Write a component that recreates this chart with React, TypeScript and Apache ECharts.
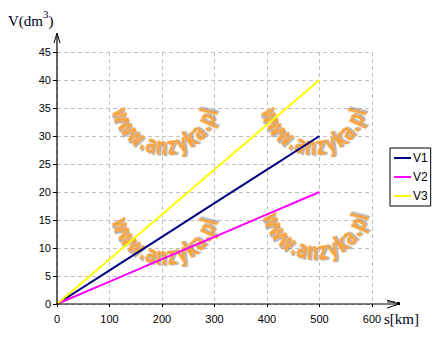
import React, { useEffect, useRef } from "react";
import * as echarts from "echarts";

const distances = [0, 100, 200, 300, 400, 500];
const V1 = [0, 6, 12, 18, 24, 30];
const V2 = [0, 4, 8, 12, 16, 20];
const V3 = [0, 8, 16, 24, 32, 40];
const seriesNames = ["V1", "V2", "V3"];
const seriesColors = ["#000080", "#ff00ff", "#ffff00"];
const watermarkText = "www.anzyka.pl";

function arcText(cx: number, cy: number, r: number, a0: number, a1: number, text: string) {
  const weights = text.split("").map((c) => (c === "w" ? 1.3 : c === "." ? 0.55 : c === "l" ? 0.6 : 1));
  const total = weights.reduce((a, b) => a + b, 0);
  let acc = 0;
  const els: any[] = [];
  text.split("").forEach((ch, i) => {
    const mid = acc + weights[i] / 2;
    acc += weights[i];
    const t = mid / total;
    const th = a0 + (a1 - a0) * t;
    const rad = (th * Math.PI) / 180;
    els.push({
      type: "text",
      x: cx + r * Math.cos(rad),
      y: cy + r * Math.sin(rad),
      rotation: ((90 - th) * Math.PI) / 180,
      scaleX: 1.05,
      scaleY: 1.45,
      z: 1,
      silent: true,
      style: {
        text: ch,
        fill: "#f9a43c",
        fontSize: 17,
        fontWeight: "bold",
        fontFamily: '"DejaVu Sans Condensed", "Liberation Sans Narrow", sans-serif',
        align: "center",
        verticalAlign: "middle",
        textShadowColor: "rgba(120,120,120,0.55)",
        textShadowOffsetX: 2,
        textShadowOffsetY: 1,
        textShadowBlur: 1,
      },
    });
  });
  return els;
}

export default function App() {
  const ref = useRef<HTMLDivElement>(null);
  useEffect(() => {
    if (!ref.current) return;
    const chart = echarts.init(ref.current, null, { renderer: "svg" });
    const mk = (vals: number[]) => distances.map((d, i) => [d, vals[i]]);
    const data = [V1, V2, V3];
    chart.setOption({
      animation: false,
      backgroundColor: "#fff",
      grid: { left: 57, top: 52, width: 315, height: 252 },
      xAxis: {
        type: "value",
        min: 0,
        max: 600,
        interval: 100,
        axisLine: { show: false },
        axisTick: { show: true, length: 3, lineStyle: { color: "#000" } },
        axisLabel: { color: "#000", fontSize: 11, fontFamily: "Liberation Sans", margin: 9 },
        splitLine: { show: true, lineStyle: { color: "#c0c0c0", type: [4, 3] } },
      },
      yAxis: {
        type: "value",
        min: 0,
        max: 45,
        interval: 5,
        axisLine: { show: false },
        axisTick: { show: true, length: 4, lineStyle: { color: "#000" } },
        axisLabel: { color: "#000", fontSize: 11, fontFamily: "Liberation Sans", margin: 6 },
        splitLine: { show: true, lineStyle: { color: "#c0c0c0", type: [4, 3] } },
      },
      legend: {
        orient: "vertical",
        left: 390,
        top: 148,
        borderColor: "#000",
        borderWidth: 1,
        borderRadius: 0,
        padding: [4, 3, 4, 4],
        itemGap: 7,
        itemWidth: 17,
        itemHeight: 2,
        icon: "rect",
        textStyle: { color: "#000", fontSize: 12, fontFamily: "Liberation Sans", padding: [0, 0, 0, -3] },
        data: seriesNames,
      },
      series: seriesNames.map((n, i) => ({
        name: n,
        type: "line",
        data: mk(data[i]),
        showSymbol: false,
        symbol: "none",
        z: 3,
        lineStyle: { color: seriesColors[i], width: 2 },
        itemStyle: { color: seriesColors[i] },
      })),
    });
    const o = chart.convertToPixel({ gridIndex: 0 }, [0, 0]) as number[];
    const top = chart.convertToPixel({ gridIndex: 0 }, [0, 45]) as number[];
    const right = chart.convertToPixel({ gridIndex: 0 }, [600, 0]) as number[];
    const xEnd = right[0] + 27;
    const yEnd = top[1] - 19;
    const graphics: any[] = [
      ...arcText(165, 101, 45, 170, 10, watermarkText),
      ...arcText(314, 101, 45, 170, 10, watermarkText),
      ...arcText(165, 211, 45, 170, 10, watermarkText),
      ...arcText(316, 206, 45, 170, 10, watermarkText),
      { type: "line", z: 5, shape: { x1: o[0], y1: o[1], x2: xEnd, y2: o[1] }, style: { stroke: "#000", lineWidth: 1.2 } },
      { type: "polyline", z: 5, shape: { points: [[xEnd - 12, o[1] - 4], [xEnd, o[1]], [xEnd - 12, o[1] + 4]] }, style: { stroke: "#000", fill: "none", lineWidth: 1 } },
      { type: "line", z: 5, shape: { x1: xEnd - 12, y1: o[1] - 2, x2: xEnd - 4, y2: o[1] - 2 }, style: { stroke: "#000", lineWidth: 1 } },
      { type: "rect", z: 5, shape: { x: xEnd - 2, y: o[1] - 2, width: 3, height: 3 }, style: { fill: "#000" } },
      { type: "line", z: 5, shape: { x1: o[0], y1: o[1], x2: o[0], y2: yEnd }, style: { stroke: "#000", lineWidth: 1.2 } },
      { type: "polyline", z: 5, shape: { points: [[o[0] - 3, yEnd + 10], [o[0], yEnd], [o[0] + 3, yEnd + 10]] }, style: { stroke: "#000", fill: "none", lineWidth: 1 } },
      {
        type: "text",
        z: 5,
        x: 8,
        y: 8,
        style: {
          text: "{a|V(dm}{s|3}{a|)}",
          rich: {
            a: { fontFamily: "Liberation Serif", fontSize: 15, fill: "#000020", verticalAlign: "bottom", lineHeight: 20 },
            s: { fontFamily: "Liberation Serif", fontSize: 11, fill: "#000020", verticalAlign: "top", lineHeight: 12, padding: [0, 0, 8, 0] },
          },
        },
      },
      {
        type: "text",
        z: 5,
        x: 384,
        y: 311,
        style: { text: "s[km]", font: '15px "Liberation Serif"', fill: "#000020" },
      },
    ];
    chart.setOption({ graphic: graphics });
    return () => chart.dispose();
  }, []);
  return <div ref={ref} style={{ position: "fixed", left: 0, top: 0, width: 439, height: 351 }} />;
}
